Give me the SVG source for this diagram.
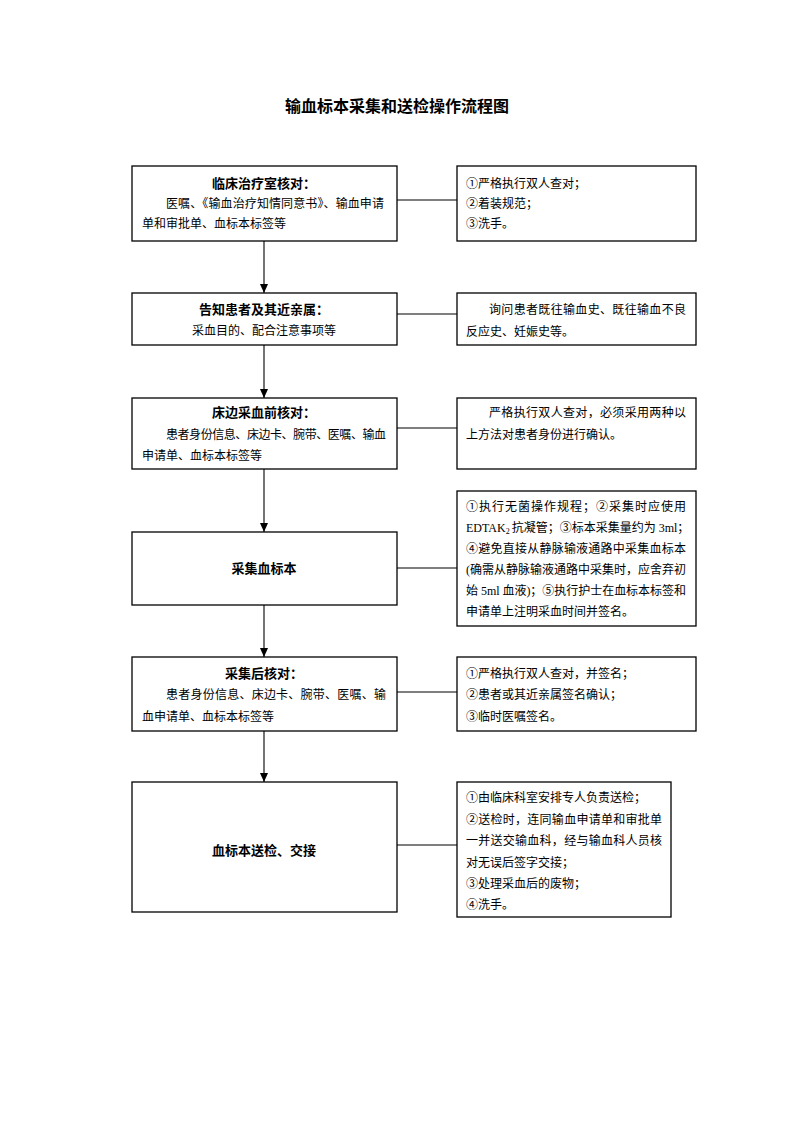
<svg xmlns="http://www.w3.org/2000/svg" width="793" height="1122" viewBox="0 0 793 1122">
<style>
text{font-family:"Liberation Serif","Noto Sans CJK SC",serif;fill:#000;font-size:12px}
.t{font-size:16px;font-weight:bold}
.h{font-size:13px;font-weight:bold}
.box{fill:#fff;stroke:#000;stroke-width:1.3}
.con line{stroke:#000;stroke-width:1.1}
</style>
<defs>
<marker id="arr" markerWidth="10" markerHeight="10" refX="9" refY="4" orient="auto" markerUnits="userSpaceOnUse">
<path d="M0,0 L9,4 L0,8 Z" fill="#000"/>
</marker>
</defs>
<rect width="793" height="1122" fill="#fff"/>
<text class="t" x="397" y="112" text-anchor="middle">输血标本采集和送检操作流程图</text>

<g class="con">
<line x1="264" y1="241" x2="264" y2="293" marker-end="url(#arr)"/>
<line x1="264" y1="345" x2="264" y2="398" marker-end="url(#arr)"/>
<line x1="264" y1="469" x2="264" y2="532" marker-end="url(#arr)"/>
<line x1="264" y1="605" x2="264" y2="657" marker-end="url(#arr)"/>
<line x1="264" y1="731" x2="264" y2="782" marker-end="url(#arr)"/>
<line x1="397" y1="200" x2="457" y2="200"/>
<line x1="397" y1="314" x2="457" y2="314"/>
<line x1="397" y1="428" x2="457" y2="428"/>
<line x1="397" y1="568" x2="457" y2="568"/>
<line x1="397" y1="692" x2="457" y2="692"/>
<line x1="397" y1="845" x2="457" y2="845"/>
</g>

<g id="n1">
<rect class="box" x="132" y="166" width="265" height="75"/>
<text class="h" x="264" y="188" text-anchor="middle">临床治疗室核对：</text>
<text x="166" y="207.5" textLength="218" lengthAdjust="spacing">医嘱、《输血治疗知情同意书》、输血申请</text>
<text x="142" y="227.5">单和审批单、血标本标签等</text>
</g>
<g id="r1">
<rect class="box" x="457" y="166" width="239" height="75"/>
<text x="466" y="187.5">①严格执行双人查对；</text>
<text x="466" y="207.5">②着装规范；</text>
<text x="466" y="227.5">③洗手。</text>
</g>

<g id="n2">
<rect class="box" x="132" y="293" width="265" height="52"/>
<text class="h" x="264" y="314" text-anchor="middle">告知患者及其近亲属：</text>
<text x="264" y="334.5" text-anchor="middle">采血目的、配合注意事项等</text>
</g>
<g id="r2">
<rect class="box" x="457" y="293" width="239" height="52"/>
<text x="489" y="313.5" textLength="197" lengthAdjust="spacing">询问患者既往输血史、既往输血不良</text>
<text x="466" y="335.5">反应史、妊娠史等。</text>
</g>

<g id="n3">
<rect class="box" x="132" y="398" width="265" height="71"/>
<text class="h" x="264" y="417" text-anchor="middle">床边采血前核对：</text>
<text x="166" y="438.5" textLength="220" lengthAdjust="spacing">患者身份信息、床边卡、腕带、医嘱、输血</text>
<text x="142" y="459.5">申请单、血标本标签等</text>
</g>
<g id="r3">
<rect class="box" x="457" y="398" width="239" height="71"/>
<text x="489" y="416.5" textLength="197" lengthAdjust="spacing">严格执行双人查对，必须采用两种以</text>
<text x="466" y="438.5">上方法对患者身份进行确认。</text>
</g>

<g id="n4">
<rect class="box" x="132" y="532" width="265" height="73"/>
<text class="h" x="264" y="573" text-anchor="middle">采集血标本</text>
</g>
<g id="r4">
<rect class="box" x="457" y="491" width="239" height="135"/>
<text x="466" y="510.5" textLength="220" lengthAdjust="spacing">①执行无菌操作规程；②采集时应使用</text>
<text x="466" y="531.5">EDTAK<tspan font-size="8" dy="2">2</tspan><tspan dx="2" dy="-2">抗凝管；③标本采集量约为 3ml；</tspan></text>
<text x="466" y="552.5" textLength="220" lengthAdjust="spacing">④避免直接从静脉输液通路中采集血标本</text>
<text x="466" y="573.5" textLength="220" lengthAdjust="spacing">(确需从静脉输液通路中采集时，应舍弃初</text>
<text x="466" y="594.5" textLength="220" lengthAdjust="spacing">始 5ml 血液)；⑤执行护士在血标本标签和</text>
<text x="466" y="615.5">申请单上注明采血时间并签名。</text>
</g>

<g id="n5">
<rect class="box" x="132" y="657" width="265" height="74"/>
<text class="h" x="264" y="678" text-anchor="middle">采集后核对：</text>
<text x="166" y="698.5" textLength="220" lengthAdjust="spacing">患者身份信息、床边卡、腕带、医嘱、输</text>
<text x="142" y="720.5">血申请单、血标本标签等</text>
</g>
<g id="r5">
<rect class="box" x="457" y="657" width="239" height="74"/>
<text x="466" y="677.5">①严格执行双人查对，并签名；</text>
<text x="466" y="698.5">②患者或其近亲属签名确认；</text>
<text x="466" y="720.5">③临时医嘱签名。</text>
</g>

<g id="n6">
<rect class="box" x="132" y="782" width="265" height="130"/>
<text class="h" x="264" y="855" text-anchor="middle">血标本送检、交接</text>
</g>
<g id="r6">
<rect class="box" x="457" y="782" width="214" height="135"/>
<text x="466" y="801.5">①由临床科室安排专人负责送检；</text>
<text x="466" y="823.5" textLength="196" lengthAdjust="spacing">②送检时，连同输血申请单和审批单</text>
<text x="466" y="845" textLength="196" lengthAdjust="spacing">一并送交输血科，经与输血科人员核</text>
<text x="466" y="866.5">对无误后签字交接；</text>
<text x="466" y="887.5">③处理采血后的废物；</text>
<text x="466" y="908.5">④洗手。</text>
</g>
</svg>
